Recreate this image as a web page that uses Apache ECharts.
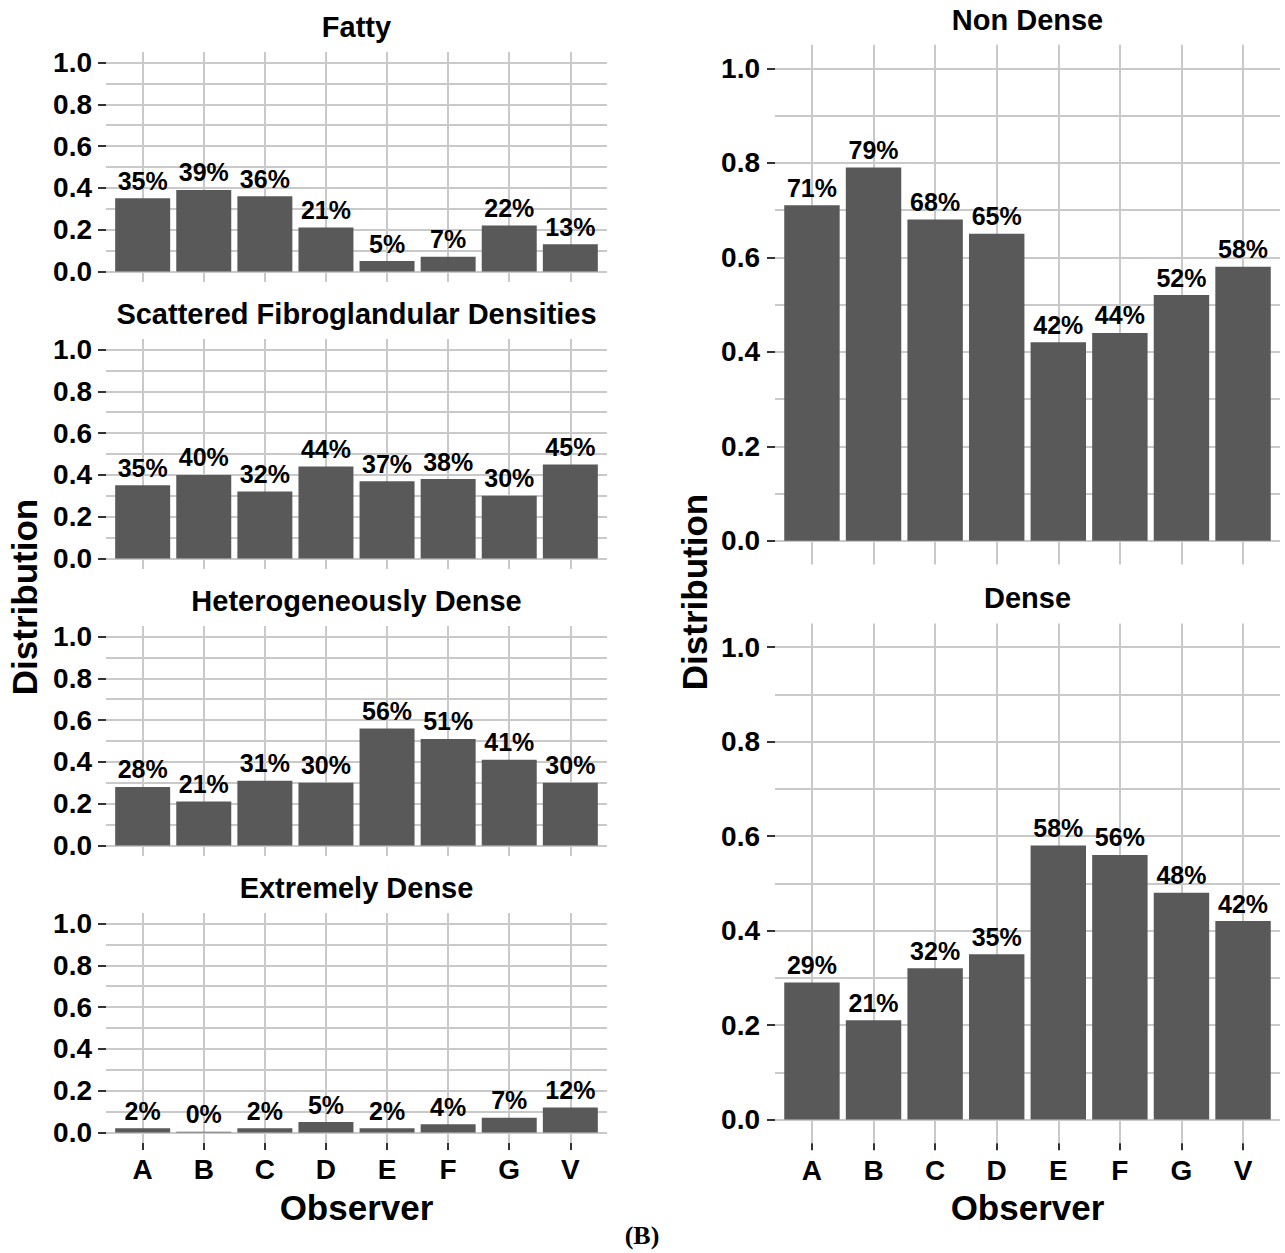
<!DOCTYPE html>
<html>
<head>
<meta charset="utf-8">
<title>Density distribution by observer</title>
<script src="https://cdn.jsdelivr.net/npm/echarts@6/dist/echarts.min.js"></script>
<style>
  html, body { margin: 0; padding: 0; background: #ffffff; }
  #chart { width: 1285px; height: 1253px; }
</style>
</head>
<body>
<div id="chart"></div>
<script>
// Observers on the x axis
const observers = ['A', 'B', 'C', 'D', 'E', 'F', 'G', 'V'];

// Share of cases per density category, for each observer
const fatty = [0.35, 0.39, 0.36, 0.21, 0.05, 0.07, 0.22, 0.13];
const scattered = [0.35, 0.40, 0.32, 0.44, 0.37, 0.38, 0.30, 0.45];
const heterogeneous = [0.28, 0.21, 0.31, 0.30, 0.56, 0.51, 0.41, 0.30];
const extreme = [0.02, 0.004, 0.02, 0.05, 0.02, 0.04, 0.07, 0.12];

// Two-class grouping
const nonDense = [0.71, 0.79, 0.68, 0.65, 0.42, 0.44, 0.52, 0.58];
const dense = [0.29, 0.21, 0.32, 0.35, 0.58, 0.56, 0.48, 0.42];

// Panel titles
const leftTitles = ['Fatty', 'Scattered Fibroglandular Densities', 'Heterogeneously Dense', 'Extremely Dense'];
const rightTitles = ['Non Dense', 'Dense'];

// Axis range and step of the y scale
const yMin = 0, yMax = 1, yStep = 0.2;

const FONT = '"Liberation Sans", Arial, Helvetica, sans-serif';
const GRID_COLOR = '#c9c9c9';
const BAR_COLOR = '#595959';
const TICK_COLOR = '#333333';

// Layout of each panel (pixels): panel edges and positions of y=1 and y=0
const panels = [
  { title: leftTitles[0], data: fatty,         L: 106, R: 607, y1: 62.5,  y0: 271.5,  bottom: false, labelMargin: 14 },
  { title: leftTitles[1], data: scattered,     L: 106, R: 607, y1: 349.5, y0: 558.5,  bottom: false, labelMargin: 14 },
  { title: leftTitles[2], data: heterogeneous, L: 106, R: 607, y1: 636.5, y0: 845.5,  bottom: false, labelMargin: 14 },
  { title: leftTitles[3], data: extreme,       L: 106, R: 607, y1: 923.5, y0: 1132.5, bottom: true,  labelMargin: 14 },
  { title: rightTitles[0], data: nonDense,     L: 775, R: 1280, y1: 68.3, y0: 540.8,  bottom: false, labelMargin: 15 },
  { title: rightTitles[1], data: dense,        L: 775, R: 1280, y1: 647,  y0: 1119.5, bottom: true,  labelMargin: 15 }
];

const grid = [], xAxis = [], yAxis = [], series = [], graphic = [];

panels.forEach(function (p) {
  const n = observers.length;
  const band = (p.R - p.L) / (n + 0.2);      // 0.6 band padding on each side
  const h = p.y0 - p.y1;
  const e = 0.05 * h;                          // vertical padding of the panel
  const barLeft = p.L + 0.1 * band;
  const barWidth = n * band;

  // 1) horizontal grid lines + y axis labels
  const gBg = grid.length;
  grid.push({ left: p.L, top: p.y1, width: p.R - p.L, height: h });
  xAxis.push({ gridIndex: gBg, type: 'value', show: false, min: 0, max: 1 });
  yAxis.push({
    gridIndex: gBg, type: 'value', min: yMin, max: yMax, interval: yStep,
    axisLine: { show: false },
    axisTick: { show: true, length: 8, lineStyle: { color: TICK_COLOR, width: 2 } },
    axisLabel: {
      margin: p.labelMargin, fontSize: 28, fontWeight: 'bold', color: '#000', fontFamily: FONT,
      formatter: function (v) { return v.toFixed(1); }
    },
    splitLine: { show: true, lineStyle: { color: GRID_COLOR, width: 2 } },
    minorTick: { show: false, splitNumber: 2 },
    minorSplitLine: { show: true, lineStyle: { color: GRID_COLOR, width: 2 } }
  });

  // 2) vertical grid lines at every observer, spanning the padded panel
  const gV = grid.length;
  grid.push({ left: barLeft, top: p.y1 - e, width: barWidth, height: h + 2 * e });
  xAxis.push({
    gridIndex: gV, type: 'category', data: observers, boundaryGap: true,
    axisLine: { show: false, onZero: false },
    axisTick: { show: true, inside: true, alignWithLabel: true, interval: 0, length: h + 2 * e,
                lineStyle: { color: GRID_COLOR, width: 2 } },
    axisLabel: { show: false },
    splitLine: { show: false }
  });
  yAxis.push({ gridIndex: gV, type: 'value', show: false, min: 0, max: 1 });

  // 3) bars with value labels
  const gB = grid.length;
  grid.push({ left: barLeft, top: p.y1, width: barWidth, height: h });
  xAxis.push({
    gridIndex: gB, type: 'category', data: observers, boundaryGap: true,
    offset: p.bottom ? e : 0,
    axisLine: { show: false, onZero: false },
    axisTick: { show: p.bottom, alignWithLabel: true, interval: 0, length: 7,
                lineStyle: { color: TICK_COLOR, width: 2 } },
    axisLabel: { show: p.bottom, interval: 0, margin: 13, fontSize: 28, fontWeight: 'bold',
                 color: '#000', fontFamily: FONT },
    splitLine: { show: false }
  });
  yAxis.push({ gridIndex: gB, type: 'value', show: false, min: yMin, max: yMax });
  series.push({
    type: 'bar', xAxisIndex: gB, yAxisIndex: gB, data: p.data,
    barWidth: '90%', silent: true,
    itemStyle: { color: BAR_COLOR },
    label: {
      show: true, position: 'top', distance: 5, fontSize: 25, fontWeight: 'bold',
      color: '#000', fontFamily: FONT,
      formatter: function (d) { return Math.round(d.value * 100) + '%'; }
    }
  });

  // panel title
  graphic.push({
    type: 'text', x: (p.L + p.R) / 2, y: p.y1 - e - 25,
    style: { text: p.title, font: 'bold 29px ' + FONT, fill: '#000', align: 'center', verticalAlign: 'middle' }
  });
});

// Axis titles
function addText(text, x, y, size, rot, family) {
  graphic.push({
    type: 'text', x: x, y: y, rotation: rot || 0,
    style: { text: text, font: 'bold ' + size + 'px ' + (family || FONT), fill: '#000',
             align: 'center', verticalAlign: 'middle' }
  });
}
addText('Distribution', 24, 597, 35, Math.PI / 2);
addText('Distribution', 694, 592, 35, Math.PI / 2);
addText('Observer', 356.5, 1207, 35, 0);
addText('Observer', 1027.5, 1207, 35, 0);
addText('(B)', 642, 1235, 26, 0, '"Liberation Serif", "Times New Roman", serif');

const chart = echarts.init(document.getElementById('chart'), null, { renderer: 'svg' });
chart.setOption({
  backgroundColor: '#ffffff',
  animation: false,
  grid: grid,
  xAxis: xAxis,
  yAxis: yAxis,
  series: series,
  graphic: graphic
});
</script>
</body>
</html>
